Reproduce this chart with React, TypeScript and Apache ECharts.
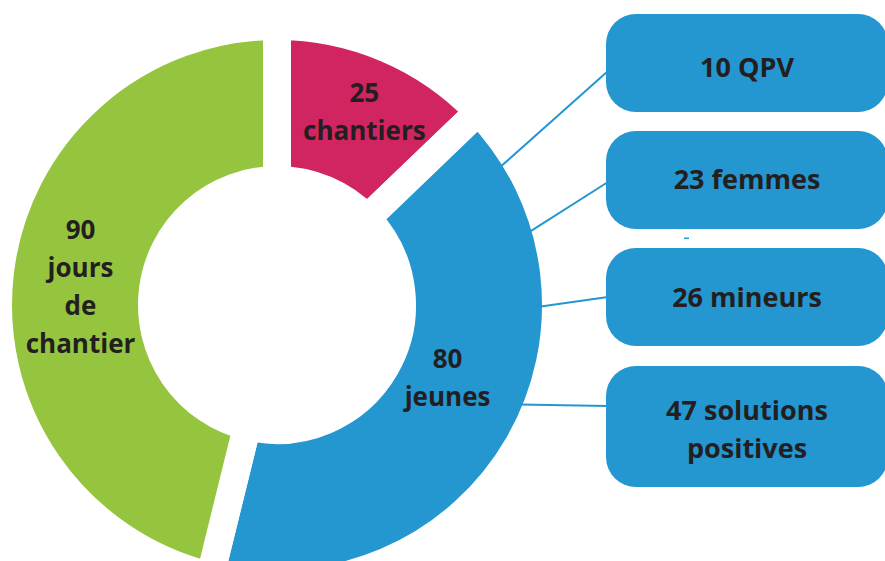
import React, { useEffect, useRef } from "react";
import * as echarts from "echarts";

// ---- data ----
const categories = ["chantiers", "jeunes", "jours de chantier"];
const values = [25, 80, 90];
const colors = ["#D02561", "#2496D0", "#95C53E"];

const boxValues = [10, 23, 26, 47];
const boxNames = ["QPV", "femmes", "mineurs", "solutions\npositives"];

// ---- layout ----
const CX = 277;
const CY = 305;
const GAP = 28;
const R_OUT = 279;
const R_IN = 125;
const labelNudge = [
  [7, -5],
  [-7, -31],
  [7, 6],
];
const BLUE = "#2496D0";
const TEXT = "#231F20";
const BOX_X = 606;
const BOX_W = 282;
const BOX_R = 30;
const boxTops = [14, 131, 248, 366];
const boxHeights = [98, 98, 98, 121];
const boxTextNudge = [3, -2, -1, 2];
const connectorAngles = [58.3, 73.9, 90.4, 112.3];
const connectorEndY = [71, 182, 297, 406];

export default function App() {
  const ref = useRef<HTMLDivElement>(null);
  useEffect(() => {
    if (!ref.current) return;
    const chart = echarts.init(ref.current, undefined, { renderer: "svg" });
    const rVis = R_OUT - GAP / 2 - 3;
    const graphics: any[] = [];
    boxValues.forEach((v, i) => {
      const a = (connectorAngles[i] * Math.PI) / 180;
      graphics.push({
        type: "line",
        z: 10,
        shape: {
          x1: CX + rVis * Math.sin(a),
          y1: CY - rVis * Math.cos(a),
          x2: BOX_X + 2,
          y2: connectorEndY[i],
        },
        style: { stroke: BLUE, lineWidth: 2 },
      });
      graphics.push({
        type: "rect",
        z: 11,
        shape: { x: BOX_X, y: boxTops[i], width: BOX_W, height: boxHeights[i], r: BOX_R },
        style: { fill: BLUE },
      });
      graphics.push({
        type: "text",
        z: 12,
        x: BOX_X + BOX_W / 2,
        y: boxTops[i] + boxHeights[i] / 2 + boxTextNudge[i],
        style: {
          text: `${v} ${boxNames[i]}`,
          fill: TEXT,
          fontFamily: '"Open Sans"',
          fontWeight: "bold",
          fontSize: 27,
          lineHeight: 38,
          align: "center",
          verticalAlign: "middle",
        },
      });
    });
    graphics.push({
      type: "rect",
      z: 11,
      shape: { x: 684, y: 237.5, width: 5, height: 1.5 },
      style: { fill: BLUE },
    });

    chart.setOption({
      animation: false,
      backgroundColor: "#ffffff",
      series: [
        {
          type: "pie",
          center: [CX, CY],
          radius: [R_IN, R_OUT],
          startAngle: 90,
          clockwise: true,
          silent: true,
          avoidLabelOverlap: false,
          emphasis: { disabled: true },
          data: values.map((v, i) => ({
            value: v,
            name: categories[i],
            itemStyle: { color: colors[i] },
          })),
          itemStyle: {
            borderColor: "#ffffff",
            borderWidth: GAP,
            borderJoin: "miter",
            borderMiterLimit: 10,
          },
          label: {
            show: true,
            position: "inside",
            formatter: (p: any) => `${p.value}\n${String(p.name).split(" ").join("\n")}`,
            color: TEXT,
            fontFamily: '"Open Sans"',
            fontWeight: "bold",
            fontSize: 26,
            lineHeight: 38,
            align: "center",
          },
          labelLine: { show: false },
          labelLayout: (p: any) => ({
            dx: labelNudge[p.dataIndex][0],
            dy: labelNudge[p.dataIndex][1],
          }),
        },
      ],
      graphic: graphics,
    });
    return () => chart.dispose();
  }, []);
  return (
    <div
      ref={ref}
      style={{ position: "fixed", left: 0, top: 0, width: 885, height: 561, background: "#fff" }}
    />
  );
}
